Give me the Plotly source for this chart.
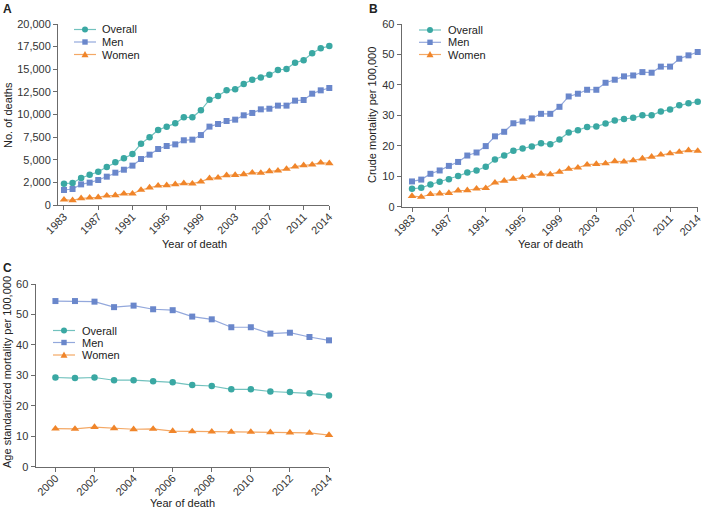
import plotly.graph_objects as go

# ---------------- data ----------------
years_ab = list(range(1983, 2015))
years_c = list(range(2000, 2015))

deaths_overall = [2360, 2430, 2980, 3350, 3680, 4200, 4710, 5160, 5640, 6780, 7480, 8290,
                  8660, 9020, 9690, 9690, 10460, 11640, 12040, 12670, 12780, 13370, 13850,
                  14100, 14400, 14920, 15030, 15730, 15990, 16760, 17310, 17570]
deaths_men = [1660, 1770, 2280, 2470, 2760, 3130, 3570, 3900, 4350, 5080, 5560, 6190,
              6520, 6700, 7150, 7220, 7730, 8660, 8950, 9280, 9430, 9910, 10170,
              10570, 10640, 10980, 10980, 11530, 11600, 12300, 12670, 12930]
deaths_women = [590, 520, 740, 810, 850, 1030, 1070, 1250, 1250, 1660, 1920, 2140,
                2170, 2280, 2390, 2360, 2580, 2950, 3020, 3280, 3310, 3390, 3570,
                3540, 3720, 3790, 3980, 4240, 4380, 4460, 4680, 4600]

crude_overall = [5.9, 6.2, 7.3, 8.2, 9.0, 10.1, 11.2, 11.9, 13.1, 15.5, 16.8, 18.4,
                 19.1, 19.8, 20.8, 20.5, 22.1, 24.4, 25.1, 26.2, 26.3, 27.3, 28.3,
                 28.8, 29.2, 30.0, 30.0, 31.3, 31.9, 33.3, 34.0, 34.5]
crude_men = [8.3, 8.9, 10.8, 11.9, 13.4, 14.7, 16.8, 17.8, 19.9, 23.1, 24.6, 27.4,
             28.0, 29.0, 30.5, 30.5, 32.8, 36.2, 37.1, 38.4, 38.4, 40.7, 41.7,
             42.8, 43.1, 44.2, 44.0, 46.0, 46.0, 48.6, 49.7, 50.8]
crude_women = [3.5, 3.2, 4.1, 4.3, 4.5, 5.3, 5.4, 5.9, 6.1, 7.9, 8.5, 9.1,
               9.6, 10.1, 10.8, 10.6, 11.4, 12.4, 12.8, 13.8, 14.0, 14.2, 14.9,
               14.8, 15.2, 15.8, 16.4, 17.1, 17.5, 18.0, 18.5, 18.3]

asr_overall = [29.3, 29.1, 29.3, 28.4, 28.4, 28.1, 27.7, 26.8, 26.5, 25.4, 25.4, 24.7, 24.5, 24.1, 23.4]
asr_men = [54.4, 54.4, 54.2, 52.4, 52.9, 51.7, 51.4, 49.3, 48.4, 45.8, 45.8, 43.7, 44.0, 42.6, 41.5]
asr_women = [12.5, 12.4, 13.0, 12.6, 12.3, 12.4, 11.7, 11.6, 11.5, 11.4, 11.4, 11.3, 11.2, 11.1, 10.4]

series_names = ["Overall", "Men", "Women"]

ticks_x_ab = [1983, 1987, 1991, 1995, 1999, 2003, 2007, 2011, 2014]
ticks_x_c = [2000, 2002, 2004, 2006, 2008, 2010, 2012, 2014]
ticks_y_a = [0, 2500, 5000, 7500, 10000, 12500, 15000, 17500, 20000]
ticktext_y_a = ["0", "2,000", "5,000", "7,500", "10,000", "12,500", "15,000", "17,500", "20,000"]
ticks_y_bc = [0, 10, 20, 30, 40, 50, 60]

# ---------------- style ----------------
W, H = 704, 509
FONT = "Liberation Sans, Arial, sans-serif"
AX = "#6b6b6b"
TXT = "#333333"
marker_col = {"Overall": "#3aa8a3", "Men": "#6a87cb", "Women": "#f0852a"}
line_col = {"Overall": "#72c2be", "Men": "#93a8dc", "Women": "#f4a865"}
symbols = {"Overall": "circle", "Men": "square", "Women": "triangle-up"}
msize = {"Overall": 6.5, "Men": 6, "Women": 7.5}


def px(x):
    return x / W


def py(y):
    return 1 - y / H


fig = go.Figure()

panels = [
    ("x", "y", years_ab, [deaths_overall, deaths_men, deaths_women]),
    ("x2", "y2", years_ab, [crude_overall, crude_men, crude_women]),
    ("x3", "y3", years_c, [asr_overall, asr_men, asr_women]),
]
for xa, ya, yrs, vals in panels:
    for name, v in zip(series_names, vals):
        fig.add_trace(go.Scatter(
            x=yrs, y=v, name=name, xaxis=xa, yaxis=ya, mode="lines+markers",
            line=dict(color=line_col[name], width=1.2),
            marker=dict(color=marker_col[name], symbol=symbols[name], size=msize[name]),
            cliponaxis=False, showlegend=False))

axis_common = dict(showline=True, linecolor=AX, linewidth=1, ticks="outside", ticklen=4,
                   tickcolor=AX, tickwidth=1, showgrid=False, zeroline=False,
                   tickfont=dict(family=FONT, size=11, color=TXT), automargin=False)
xextra = dict(tickangle=-45, ticklabelstandoff=-4)

fig.update_layout(
    width=W, height=H, margin=dict(l=0, r=0, t=0, b=0),
    paper_bgcolor="white", plot_bgcolor="white", showlegend=False,
    font=dict(family=FONT, size=11, color=TXT),
    xaxis=dict(domain=[px(58), px(329.3)], range=[1982.3, 2014], tickvals=ticks_x_ab,
               anchor="y", **xextra, **axis_common),
    yaxis=dict(domain=[py(205), py(24)], range=[0, 20000], tickvals=ticks_y_a,
               ticktext=ticktext_y_a, anchor="x", **axis_common),
    xaxis2=dict(domain=[px(401.7), px(697.7)], range=[1981.88, 2014], tickvals=ticks_x_ab,
                anchor="y2", **xextra, **axis_common),
    yaxis2=dict(domain=[py(206.7), py(24)], range=[0, 60], tickvals=ticks_y_bc,
                anchor="x2", **axis_common),
    xaxis3=dict(domain=[px(35.5), px(329)], range=[1998.98, 2014], tickvals=ticks_x_c,
                anchor="y3", **xextra, **axis_common),
    yaxis3=dict(domain=[py(466.7), py(284)], range=[0, 60], tickvals=ticks_y_bc,
                anchor="x3", **axis_common),
)

annotations = []
shapes = []


def text(x, y, s, size=11, bold=False, angle=0, xanchor="center"):
    annotations.append(dict(
        x=px(x), y=py(y), xref="paper", yref="paper", text=f"<b>{s}</b>" if bold else s,
        showarrow=False, textangle=angle, xanchor=xanchor, yanchor="middle",
        font=dict(family=FONT, size=size, color="#222222")))


# panel letters
text(7, 9, "A", size=12, bold=True)
text(373, 9, "B", size=12, bold=True)
text(7, 268, "C", size=12, bold=True)

# axis titles
text(8, 115, "No. of deaths", angle=-90)
text(194, 244, "Year of death")
text(372, 115, "Crude mortality per 100,000", angle=-90)
text(550, 244, "Year of death")
text(7, 372, "Age standardized mortality per 100,000", angle=-90)
text(182, 503, "Year of death")


# legends (drawn as keys)
def legend(x0, x1, xt, ys):
    xm = (x0 + x1) / 2
    for name, y in zip(series_names, ys):
        shapes.append(dict(type="line", xref="paper", yref="paper", x0=px(x0), x1=px(x1),
                           y0=py(y), y1=py(y), line=dict(color=line_col[name], width=1.2)))
        if name == "Overall":
            r = 3
            shapes.append(dict(type="circle", xref="paper", yref="paper",
                               x0=px(xm - r), x1=px(xm + r), y0=py(y + r), y1=py(y - r),
                               fillcolor=marker_col[name], line=dict(width=0)))
        elif name == "Men":
            r = 2.7
            shapes.append(dict(type="rect", xref="paper", yref="paper",
                               x0=px(xm - r), x1=px(xm + r), y0=py(y + r), y1=py(y - r),
                               fillcolor=marker_col[name], line=dict(width=0)))
        else:
            r = 3.5
            path = (f"M {px(xm - r)},{py(y + r * 0.8)} L {px(xm + r)},{py(y + r * 0.8)} "
                    f"L {px(xm)},{py(y - r)} Z")
            shapes.append(dict(type="path", xref="paper", yref="paper", path=path,
                               fillcolor=marker_col[name], line=dict(width=0)))
        text(xt, y, name, xanchor="left")


legend(74, 96, 100, [29.5, 42, 54.5])
legend(419, 441, 446, [30, 42.3, 54.5])
legend(53, 75, 80, [330.5, 342.5, 355])

fig.update_layout(annotations=annotations, shapes=shapes)
fig.write_html("out.html", config={"displayModeBar": False},
               post_script="document.body.style.margin='0px';document.body.style.padding='0px';")
